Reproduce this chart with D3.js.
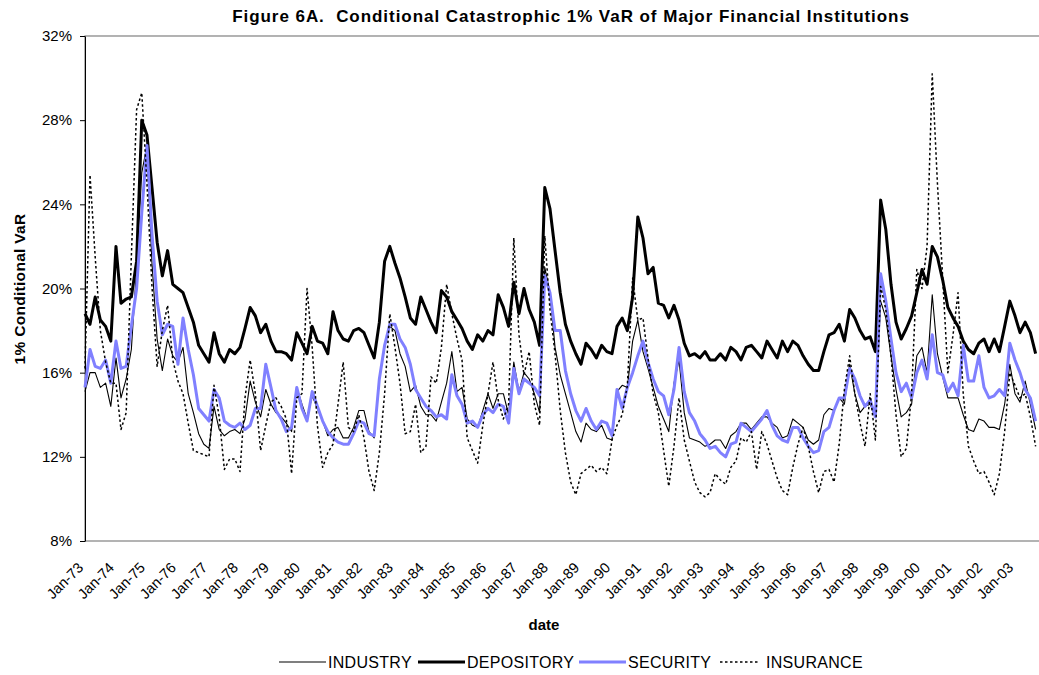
<!DOCTYPE html>
<html>
<head>
<meta charset="utf-8">
<script src="https://cdn.jsdelivr.net/npm/d3@7"></script>
<style>
  body { margin: 0; background: #fff; }
  text { font-family: Arial, "Liberation Sans", sans-serif; fill: #000; }
</style>
</head>
<body>
<script>
// Conditional catastrophic 1% VaR (%), one reading every two months from Jan-73
var firstMonth = new Date(1973, 0, 1);
var stepMonths = 2;

var industry = [
  15.1, 16.0, 16.0, 15.3, 15.5, 14.4,
  16.7, 14.8, 15.7, 17.1, 21.0, 25.5,
  26.8, 21.2, 17.6, 16.1, 17.6, 16.8,
  16.5, 17.2, 15.0, 14.1, 13.1, 12.6,
  12.4, 14.4, 13.3, 13.0, 13.2, 13.3,
  13.1, 13.8, 15.6, 14.6, 13.9, 15.2,
  14.5, 14.1, 13.9, 13.6, 13.2, 15.3,
  14.5, 13.8, 14.9, 14.3, 13.7, 13.0,
  13.3, 13.4, 12.9, 12.9, 13.4, 14.2,
  14.2, 13.2, 12.9, 15.7, 17.2, 18.2,
  18.0, 16.9, 16.3, 15.1, 15.4, 14.4,
  14.0, 14.0, 13.7, 14.6, 15.5, 17.0,
  15.1, 15.3, 13.8, 13.5, 13.4, 14.2,
  15.0, 14.3, 15.0, 15.0, 14.0, 16.5,
  15.1, 16.0, 15.7, 15.0, 14.1, 21.0,
  19.8, 17.2, 15.9, 15.0, 14.1, 13.2,
  12.7, 13.6, 13.3, 13.2, 13.5, 12.9,
  12.8, 15.1, 15.4, 15.3, 17.5, 18.5,
  17.0, 16.2, 15.3, 14.4, 13.8, 13.2,
  15.5, 16.6, 14.1, 12.9, 12.8, 12.7,
  12.5, 12.6, 12.8, 12.8, 12.4, 13.0,
  13.2, 13.6, 13.6, 13.3, 13.6, 13.9,
  13.9, 13.6, 13.4, 12.9, 13.0, 13.8,
  13.6, 13.4, 12.8, 12.6, 12.8, 14.0,
  14.3, 14.2, 14.8, 14.5, 16.4, 15.0,
  14.1, 14.4, 14.5, 13.9, 19.4, 18.6,
  16.8, 15.2, 13.9, 14.1, 14.5, 16.8,
  17.2, 16.0, 19.7, 16.9, 15.8, 14.8,
  14.8, 14.8, 14.0, 13.3, 13.2, 13.8,
  13.7, 13.4, 13.4, 13.3, 14.5, 16.4,
  15.0, 14.6, 15.6, 14.5, 13.3
];

var depository = [
  18.8, 18.3, 19.6, 18.5, 18.2, 17.5,
  22.0, 19.3, 19.5, 19.6, 21.3, 28.0,
  27.3, 24.8, 22.2, 20.6, 21.8, 20.2,
  20.0, 19.8, 19.1, 18.4, 17.3, 16.9,
  16.5, 17.9, 16.9, 16.5, 17.1, 16.9,
  17.2, 18.1, 19.1, 18.7, 17.9, 18.3,
  17.5, 17.0, 17.0, 16.9, 16.6, 17.9,
  17.4, 16.9, 18.2, 17.5, 17.4, 16.9,
  18.9, 18.0, 17.6, 17.5, 18.0, 18.1,
  17.9, 17.3, 16.7, 18.4, 21.3, 22.0,
  21.2, 20.5, 19.6, 18.6, 18.3, 19.6,
  19.0, 18.4, 17.9, 19.9, 19.6, 18.9,
  18.5, 18.1, 17.5, 17.1, 17.8, 17.5,
  18.0, 17.8, 19.7, 19.1, 18.2, 20.3,
  18.8, 20.0, 19.0, 18.4, 17.3, 24.8,
  23.8, 21.8, 19.8, 18.3, 17.5, 16.9,
  16.4, 17.4, 17.1, 16.7, 17.3, 17.0,
  16.9, 18.2, 18.6, 18.0, 19.6, 23.4,
  22.4, 20.7, 21.0, 19.3, 19.2, 18.6,
  19.2, 18.5, 17.4, 16.8, 16.9, 16.7,
  17.0, 16.6, 16.6, 16.9, 16.6, 17.2,
  17.0, 16.6, 17.2, 17.3, 17.0, 16.7,
  17.5, 17.1, 16.7, 17.5, 17.0, 17.5,
  17.3, 16.8, 16.4, 16.1, 16.1, 17.0,
  17.8, 17.9, 18.3, 17.5, 19.0, 18.6,
  18.0, 17.6, 17.7, 17.0, 24.2, 22.8,
  20.2, 18.4, 17.6, 18.1, 18.7, 19.8,
  20.9, 20.2, 22.0, 21.5, 20.4, 19.1,
  18.6, 18.2, 17.5, 17.1, 16.9, 17.4,
  17.6, 17.0, 17.6, 17.0, 18.2, 19.4,
  18.7, 17.9, 18.4, 17.9, 16.9
];

var security = [
  15.3, 17.1, 16.3, 16.2, 16.6, 15.5,
  17.5, 16.2, 16.3, 18.2, 20.0, 23.6,
  26.8, 22.6, 19.4, 17.8, 18.3, 18.2,
  16.4, 18.6, 17.1, 15.9, 14.3, 14.0,
  13.7, 15.2, 14.8, 13.7, 13.5, 13.4,
  13.6, 13.3, 13.5, 14.3, 14.3, 16.4,
  15.3, 14.2, 13.8, 13.2, 13.4, 15.3,
  14.3, 13.7, 15.1, 14.4, 13.7, 13.2,
  12.9, 12.7, 12.6, 12.6, 13.1, 13.7,
  13.6, 13.1, 13.0, 15.7, 17.3, 18.3,
  18.3, 17.6, 17.2, 16.4, 15.2, 14.8,
  14.4, 14.2, 13.9, 14.0, 13.8, 15.9,
  14.9, 14.5, 13.6, 13.7, 13.4, 14.0,
  14.3, 14.1, 14.5, 14.4, 13.6, 16.2,
  15.0, 15.7, 15.5, 15.3, 14.9, 20.6,
  19.8, 18.0, 18.0, 16.1, 15.0, 14.2,
  13.7, 14.3, 13.7, 13.3, 13.7, 13.6,
  13.0, 15.2, 14.3, 15.3, 16.0, 16.8,
  17.5, 16.5, 15.7, 15.1, 14.9, 14.0,
  15.2, 17.2, 15.1, 14.1, 13.7, 13.1,
  12.8, 12.4, 12.5, 12.2, 12.0, 12.6,
  12.7, 13.6, 13.4, 13.2, 13.5, 13.8,
  14.2, 13.5, 13.0, 12.8, 12.7, 13.4,
  13.4, 12.9, 12.5, 12.2, 12.3, 13.2,
  13.4, 14.2, 14.8, 14.8, 16.2, 15.7,
  14.9, 14.4, 14.7, 13.9, 20.7, 19.4,
  17.6, 16.0, 15.1, 15.5, 14.8, 16.0,
  16.6, 15.7, 17.8, 16.0, 15.9, 15.1,
  15.5, 14.9, 17.3, 15.6, 15.6, 16.8,
  15.3, 14.8, 14.9, 15.2, 14.9, 17.4,
  16.6, 16.0, 15.2, 14.8, 13.7
];

var insurance = [
  16.2, 25.4, 21.5, 18.0, 16.5, 15.5,
  15.5, 13.3, 14.1, 21.5, 28.5, 29.3,
  25.0, 20.1, 16.3, 18.0, 19.2, 16.6,
  15.6, 15.0, 13.6, 12.3, 12.2, 12.1,
  12.0, 15.4, 13.9, 11.4, 11.9, 11.9,
  11.3, 14.8, 16.6, 15.0, 12.3, 13.5,
  14.6, 14.8, 14.4, 13.8, 11.2, 14.8,
  15.0, 20.0, 17.2, 13.5, 11.5, 12.2,
  12.6, 14.5, 16.5, 13.4, 13.2, 14.0,
  12.9, 11.3, 10.4, 12.2, 15.0, 18.8,
  17.2, 15.5, 13.1, 13.2, 14.5, 12.2,
  12.5, 15.8, 15.5, 17.2, 20.2, 18.8,
  17.6, 16.6, 12.9, 12.3, 11.7, 13.5,
  15.0, 16.5, 14.7, 13.8, 14.5, 22.4,
  17.8, 15.9, 17.0, 14.5, 13.5, 22.5,
  19.0, 16.9, 14.2, 12.2, 10.8, 10.2,
  11.2, 11.4, 11.6, 11.3, 11.5, 11.2,
  12.8, 13.5, 14.0, 15.4, 20.5, 18.5,
  18.6, 16.7, 15.0, 14.1, 12.3, 10.6,
  12.5, 14.8, 12.8, 11.8, 10.8, 10.3,
  10.1, 10.3, 11.2, 10.9, 10.7, 11.5,
  11.8, 12.9, 12.7, 13.2, 11.4, 13.2,
  12.6, 11.8, 11.0, 10.4, 10.2, 11.5,
  12.6, 13.4, 12.5, 11.3, 10.3, 11.3,
  11.4, 10.8, 12.6, 15.2, 16.8, 15.0,
  13.6, 12.5, 15.0, 12.8, 20.1, 19.0,
  16.8, 14.0, 12.0, 12.4, 15.0, 20.9,
  20.0, 22.0, 30.2, 25.0, 20.5, 16.0,
  17.8, 19.8, 15.0, 12.5, 11.8, 11.2,
  11.3, 10.8, 10.2, 11.2, 13.2, 16.0,
  15.4, 14.8, 15.0, 13.9, 12.5
];

var seriesNames = ["INDUSTRY", "DEPOSITORY", "SECURITY", "INSURANCE"];
var yTicks = [8, 12, 16, 20, 24, 28, 32];

// Styles for each series (drawing order = legend order)
var styles = {
  INDUSTRY:   { color: "#000", width: 1.1, dash: null },
  DEPOSITORY: { color: "#000", width: 3, dash: null },
  SECURITY:   { color: "#8080ff", width: 3, dash: null },
  INSURANCE:  { color: "#000", width: 1.5, dash: "2.5,2.5" }
};
var values = { INDUSTRY: industry, DEPOSITORY: depository, SECURITY: security, INSURANCE: insurance };

var svg = d3.select("body").append("svg").attr("width", 1039).attr("height", 675);

// Scales
var x = d3.scaleTime().domain([new Date(1973, 0, 1), new Date(2003, 0, 1)]).range([85, 1015]);
var y = d3.scaleLinear().domain([8, 32]).range([541, 36]);
var plotRight = x(new Date(2004, 0, 1));

// Plot frame
svg.append("rect")
  .attr("x", 85).attr("y", 36)
  .attr("width", plotRight - 85).attr("height", 541 - 36)
  .attr("fill", "none").attr("stroke", "#808080").attr("stroke-width", 1.2);

// Y axis
var yAxis = svg.append("g").attr("transform", "translate(85,0)")
  .call(d3.axisLeft(y).tickValues(yTicks).tickFormat(function(d) { return d + "%"; })
    .tickSize(5).tickSizeOuter(0).tickPadding(8));
yAxis.select(".domain").attr("stroke", "#000");
yAxis.selectAll("line").attr("stroke", "#000");
yAxis.selectAll("text").attr("font-size", 15);

// X axis (rotated year labels)
var xAxis = svg.append("g").attr("transform", "translate(0,541)")
  .call(d3.axisBottom(x).ticks(d3.timeYear.every(1)).tickFormat(d3.timeFormat("%b-%y"))
    .tickSize(0).tickSizeOuter(0));
xAxis.select(".domain").remove();
xAxis.selectAll("text")
  .attr("font-size", 14.5)
  .attr("y", 0).attr("dy", "0.35em")
  .attr("text-anchor", "end")
  .attr("transform", "translate(-5,24) rotate(-45)");

// Series lines
var line = d3.line()
  .x(function(d, i) { return x(d3.timeMonth.offset(firstMonth, i * stepMonths)); })
  .y(function(d) { return y(d); });

seriesNames.forEach(function(name) {
  var s = styles[name];
  svg.append("path")
    .datum(values[name])
    .attr("d", line)
    .attr("fill", "none")
    .attr("stroke", s.color)
    .attr("stroke-width", s.width)
    .attr("stroke-linejoin", "round")
    .attr("stroke-dasharray", s.dash);
});

// Titles
svg.append("text").attr("x", 571).attr("y", 22)
  .attr("text-anchor", "middle").attr("font-size", 17).attr("font-weight", "bold")
  .attr("letter-spacing", 0.95)
  .style("white-space", "pre")
  .text("Figure 6A.  Conditional Catastrophic 1% VaR of Major Financial Institutions");

svg.append("text").attr("transform", "translate(25,289) rotate(-90)")
  .attr("text-anchor", "middle").attr("font-size", 15.5).attr("font-weight", "bold")
  .attr("letter-spacing", 0.3)
  .text("1% Conditional VaR");

svg.append("text").attr("x", 544).attr("y", 630)
  .attr("text-anchor", "middle").attr("font-size", 15).attr("font-weight", "bold")
  .text("date");

// Legend
var legendStart = [279, 418, 579, 720];
var legend = svg.append("g").attr("transform", "translate(0,662)");
seriesNames.forEach(function(name, i) {
  var s = styles[name];
  var g = legend.append("g").attr("transform", "translate(" + legendStart[i] + ",0)");
  g.append("line").attr("x1", 0).attr("x2", name === "INSURANCE" ? 38 : 47)
    .attr("stroke", s.color).attr("stroke-width", s.width).attr("stroke-dasharray", s.dash);
  g.append("text").attr("x", name === "INSURANCE" ? 46 : 49).attr("dy", "0.35em")
    .attr("font-size", 16).attr("letter-spacing", 0.3).text(name);
});
</script>
</body>
</html>
